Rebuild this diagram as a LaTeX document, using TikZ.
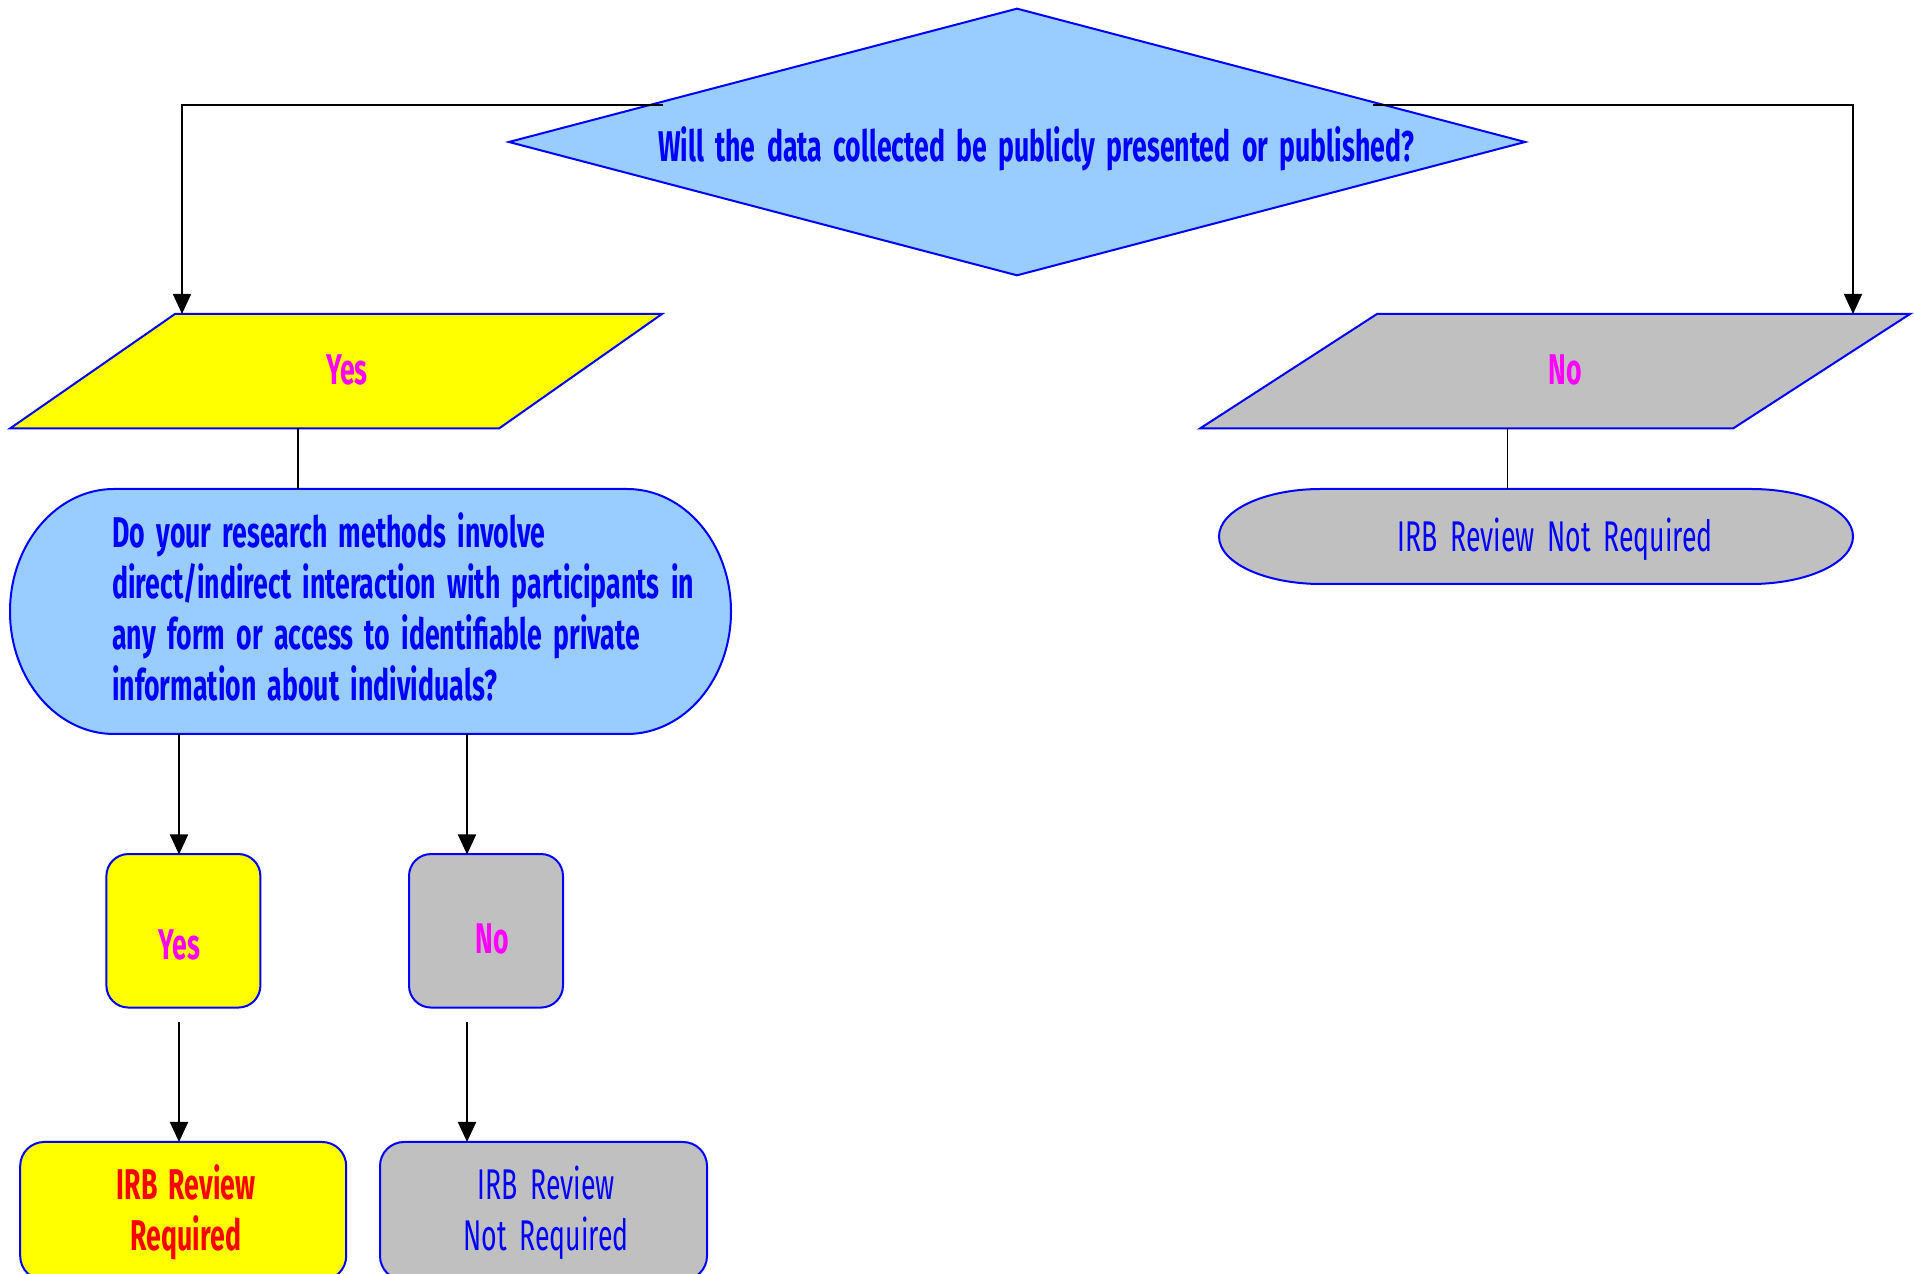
\documentclass[tikz,border=0pt]{standalone}
\usepackage{fontspec}
\setmainfont{Fira Sans}[FakeStretch=0.62,WordSpace=1.8]
\usetikzlibrary{arrows.meta,shapes.geometric}
\definecolor{lblue}{HTML}{99CCFF}
\definecolor{dblue}{HTML}{0000FF}
\definecolor{ygold}{HTML}{FFFF00}
\definecolor{lgray}{HTML}{C0C0C0}
\definecolor{mag}{HTML}{FF00FF}
\definecolor{rred}{HTML}{FF0000}
\begin{document}
\begin{tikzpicture}[x=1pt,y=1pt,
  shapeline/.style={draw=dblue,line width=2pt},
  conn/.style={draw=black,line width=1.8pt},
  arr/.style={conn,-{Triangle[length=20pt,width=18pt]}},
  txt/.style={inner sep=0pt,font=\fontsize{43}{51.3}\selectfont},
  btxt/.style={txt,font=\fontsize{43}{51.3}\selectfont\bfseries},
  sbox/.style={shapeline,rounded corners=22pt,minimum width=154pt,minimum height=153.5pt,inner sep=0pt}]
\clip (0,0) rectangle (1914,1274);
% top diamond
\node[diamond,shapeline,fill=lblue,minimum width=1017pt,minimum height=267.5pt,inner sep=0pt] (q1) at (1017,1132) {};
\node[btxt,text=dblue,anchor=base] (q1t) at (1036,1112.5) {Will the data collected be publicly presented or published?};
% yes parallelogram
\draw[shapeline,fill=ygold] (175,960) -- (662,960) -- (499,845.5) -- (10,845.5) -- cycle;
\node[btxt,text=mag,anchor=base] (yes1) at (347,889.5) {Yes};
% no parallelogram
\draw[shapeline,fill=lgray] (1377,960) -- (1910,960) -- (1733,845.5) -- (1200,845.5) -- cycle;
\node[btxt,text=mag,anchor=base] (no1) at (1565,889.5) {No};
% big question box
\draw[shapeline,fill=lblue] (114,785) -- (627,785) arc[start angle=90,end angle=-90,x radius=104,y radius=122.5] -- (114,540) arc[start angle=270,end angle=90,x radius=104,y radius=122.5] -- cycle;
\node[btxt,text=dblue,align=left,anchor=base west] (q2) at (112,573) {Do your research methods involve\\direct/indirect interaction with participants in\\any form or access to identifiable private\\information about individuals?};
% right terminal
\draw[shapeline,fill=lgray] (1321,785) -- (1751,785) arc[start angle=90,end angle=-90,x radius=102,y radius=47.5] -- (1321,690) arc[start angle=270,end angle=90,x radius=102,y radius=47.5] -- cycle;
\node[txt,text=dblue,anchor=base] (end1) at (1555,722.5) {IRB Review Not Required};
% small boxes
\node[sbox,fill=ygold] (ysb) at (183.4,343.2) {};
\node[btxt,text=mag,anchor=base] (ys) at (179.5,314.5) {Yes};
\node[sbox,fill=lgray] (nsb) at (486,343.2) {};
\node[btxt,text=mag,anchor=base] (ns) at (492,320.5) {No};
% bottom boxes
\draw[shapeline,fill=ygold,rounded corners=24pt] (20.2,-6) rectangle (346.2,132);
\node[btxt,text=rred,align=center,anchor=base] (req) at (186,23.5) {IRB Review\\Required};
\draw[shapeline,fill=lgray,rounded corners=24pt] (380,-6) rectangle (707,132);
\node[txt,text=dblue,align=center,anchor=base] (nreq) at (546,23.5) {IRB Review\\Not Required};
% connector points
\coordinate (dl) at (663,1169);
\coordinate (dr) at (1373,1169);
\coordinate (yt) at (182,960);
\coordinate (nt) at (1853,960);
\coordinate (yb) at (298,845.5);
\coordinate (q2top) at (298,785);
\coordinate (nb) at (1507.5,845.5);
\coordinate (e1top) at (1507.5,785);
\coordinate (q2a) at (179,540);
\coordinate (q2b) at (467,540);
\coordinate (ysbt) at (179,419.5);
\coordinate (nsbt) at (467,419.5);
\coordinate (ysbb) at (179,252);
\coordinate (nsbb) at (467,252);
\coordinate (reqt) at (179,132);
\coordinate (nreqt) at (467,132);
% connectors
\draw[arr] (dl) -| (yt);
\draw[arr] (dr) -| (nt);
\draw[conn] (yb) -- (q2top);
\draw[conn] (nb) -- (e1top);
\draw[arr] (q2a) -- (ysbt);
\draw[arr] (q2b) -- (nsbt);
\draw[arr] (ysbb) -- (reqt);
\draw[arr] (nsbb) -- (nreqt);
\end{tikzpicture}
\end{document}
